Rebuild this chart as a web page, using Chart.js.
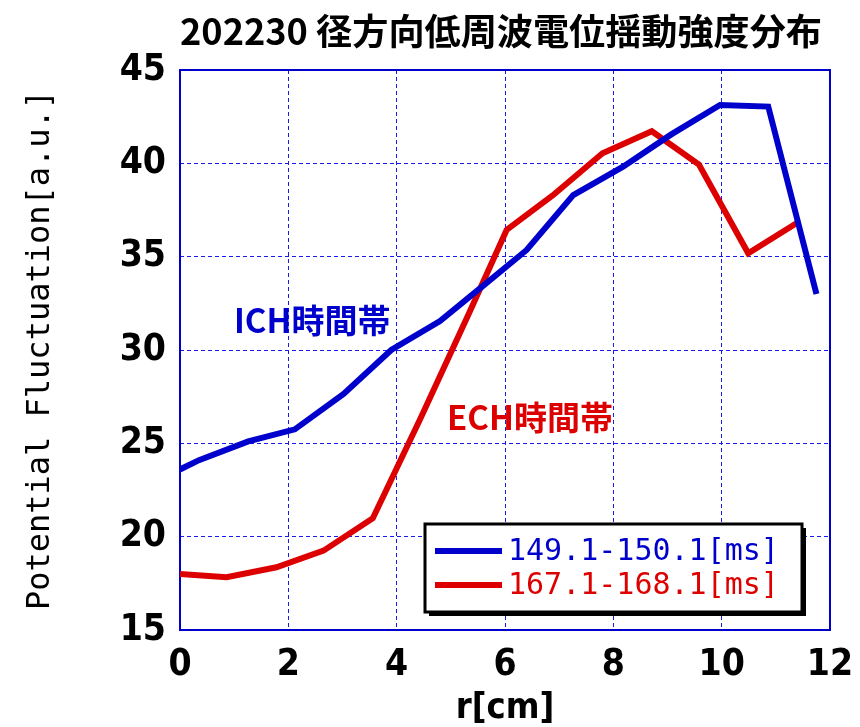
<!DOCTYPE html>
<html>
<head>
<meta charset="utf-8">
<script src="https://cdn.jsdelivr.net/npm/chart.js@4/dist/chart.umd.min.js"></script>
<style>
    html, body { margin: 0; padding: 0; background: #fff; }
    #wrap { width: 860px; height: 727px; }
</style>
</head>
<body>
<div id="wrap"><canvas id="fluctChart" width="860" height="727"></canvas></div>
<script>
// values
const chartTitle = '202230 径方向低周波電位揺動強度分布';
const xTicks = [0, 2, 4, 6, 8, 10, 12];
const yTicks = [15, 20, 25, 30, 35, 40, 45];

const ichLabel = '149.1-150.1[ms]';
const ichR = [0, 0.35, 1.26, 2.12, 3.02, 3.9, 4.8, 5.6, 6.4, 7.26, 8.18, 9.07, 9.97, 10.86, 11.75];
const ichVal = [23.6, 24.1, 25.1, 25.75, 27.65, 30.0, 31.55, 33.45, 35.36, 38.3, 39.82, 41.55, 43.13, 43.04, 33.0];

const echLabel = '167.1-168.1[ms]';
const echR = [0, 0.86, 1.78, 2.65, 3.56, 4.45, 5.34, 6.03, 6.88, 7.8, 8.71, 9.58, 10.49, 11.38];
const echVal = [18.0, 17.83, 18.36, 19.25, 20.99, 26.4, 32.0, 36.43, 38.28, 40.54, 41.72, 39.93, 35.18, 36.79];

const notes = [
    { text: 'ICH時間帯', r: 2.44, v: 31.6, color: '#0000cc' },
    { text: 'ECH時間帯', r: 6.46, v: 26.4, color: '#dd0000' }
];

const narrowFont = '"Liberation Sans Narrow", "DejaVu Sans Condensed", sans-serif';
const monoFont = '"DejaVu Sans Mono", "Liberation Mono", monospace';
const cjkFont = '"Noto Sans CJK JP", sans-serif';

function toPoints(xs, ys) {
    return xs.map((x, i) => ({ x: x, y: ys[i] }));
}

// frame round the plot area
const framePlugin = {
    id: 'frame',
    beforeDatasetsDraw(chart) {
        const { ctx, chartArea: a } = chart;
        ctx.save();
        ctx.strokeStyle = '#0000cc';
        ctx.lineWidth = 2;
        ctx.strokeRect(a.left, a.top, a.right - a.left, a.bottom - a.top);
        ctx.restore();
    }
};

// title, text notes and the boxed legend
const overlayPlugin = {
    id: 'overlay',
    afterDraw(chart) {
        const { ctx, chartArea: a, scales } = chart;
        ctx.save();

        // title, fitted to the plot width
        ctx.font = 'bold 36px ' + cjkFont;
        ctx.fillStyle = '#000';
        ctx.textAlign = 'center';
        ctx.textBaseline = 'middle';
        const tw = ctx.measureText(chartTitle).width;
        ctx.save();
        ctx.translate(501, 31);
        ctx.scale(642 / tw, 1);
        ctx.fillText(chartTitle, 0, 0);
        ctx.restore();

        // notes
        ctx.font = 'bold 33px ' + cjkFont;
        notes.forEach(n => {
            ctx.fillStyle = n.color;
            ctx.fillText(n.text, scales.x.getPixelForValue(n.r), scales.y.getPixelForValue(n.v));
        });

        // legend box
        const bx = a.right - 405, by = a.bottom - 106, bw = 377, bh = 88;
        ctx.fillStyle = '#000';
        ctx.fillRect(bx + 4, by + 4, bw, bh);
        ctx.fillStyle = '#fff';
        ctx.fillRect(bx, by, bw, bh);
        ctx.strokeStyle = '#000';
        ctx.lineWidth = 3;
        ctx.strokeRect(bx, by, bw, bh);

        ctx.font = '30px ' + monoFont;
        ctx.textAlign = 'left';
        chart.data.datasets.forEach((ds, i) => {
            const ly = by + 27 + i * 34;
            ctx.strokeStyle = ds.borderColor;
            ctx.lineWidth = 6;
            ctx.beginPath();
            ctx.moveTo(bx + 10, ly);
            ctx.lineTo(bx + 77, ly);
            ctx.stroke();
            ctx.fillStyle = ds.borderColor;
            ctx.fillText(ds.label, bx + 83, ly + 1);
        });
        ctx.restore();
    }
};

const ctx = document.getElementById('fluctChart');
new Chart(ctx, {
    type: 'line',
    data: {
        datasets: [{
            label: ichLabel,
            data: toPoints(ichR, ichVal),
            borderColor: '#0000cc',
            borderWidth: 6,
            pointRadius: 0,
            tension: 0,
            borderJoinStyle: 'miter'
        }, {
            label: echLabel,
            data: toPoints(echR, echVal),
            borderColor: '#dd0000',
            borderWidth: 6,
            pointRadius: 0,
            tension: 0,
            borderJoinStyle: 'miter'
        }]
    },
    options: {
        responsive: false,
        animation: false,
        events: [],
        layout: {
            padding: { top: 70, right: 30, left: 0, bottom: 0 }
        },
        plugins: {
            legend: { display: false },
            tooltip: { enabled: false }
        },
        scales: {
            x: {
                type: 'linear',
                min: 0,
                max: 12,
                afterBuildTicks: s => { s.ticks = xTicks.map(v => ({ value: v })); },
                afterFit: s => { s.height = 97; s.paddingRight = 0; s.paddingLeft = 0; },
                grid: {
                    color: '#1a1aee',
                    lineWidth: 1,
                    drawTicks: false
                },
                border: { display: false, dash: [4, 3] },
                ticks: {
                    color: '#000',
                    padding: 13,
                    maxRotation: 0,
                    font: { family: narrowFont, size: 37, weight: 'bold' }
                },
                title: {
                    display: true,
                    text: 'r[cm]',
                    color: '#000',
                    padding: 0,
                    font: { family: narrowFont, size: 36, weight: 'bold', lineHeight: 1 }
                }
            },
            y: {
                min: 15,
                max: 45,
                afterBuildTicks: s => { s.ticks = yTicks.map(v => ({ value: v })); },
                afterFit: s => { s.width = 180; s.paddingTop = 0; s.paddingBottom = 0; },
                grid: {
                    color: '#1a1aee',
                    lineWidth: 1,
                    drawTicks: false
                },
                border: { display: false, dash: [4, 3] },
                ticks: {
                    color: '#000',
                    padding: 14,
                    font: { family: narrowFont, size: 37, weight: 'bold' }
                },
                title: {
                    display: true,
                    text: 'Potential Fluctuation[a.u.]',
                    color: '#000',
                    padding: { top: 21, bottom: 0 },
                    font: { family: monoFont, size: 32 }
                }
            }
        }
    },
    plugins: [framePlugin, overlayPlugin]
});
</script>
</body>
</html>
